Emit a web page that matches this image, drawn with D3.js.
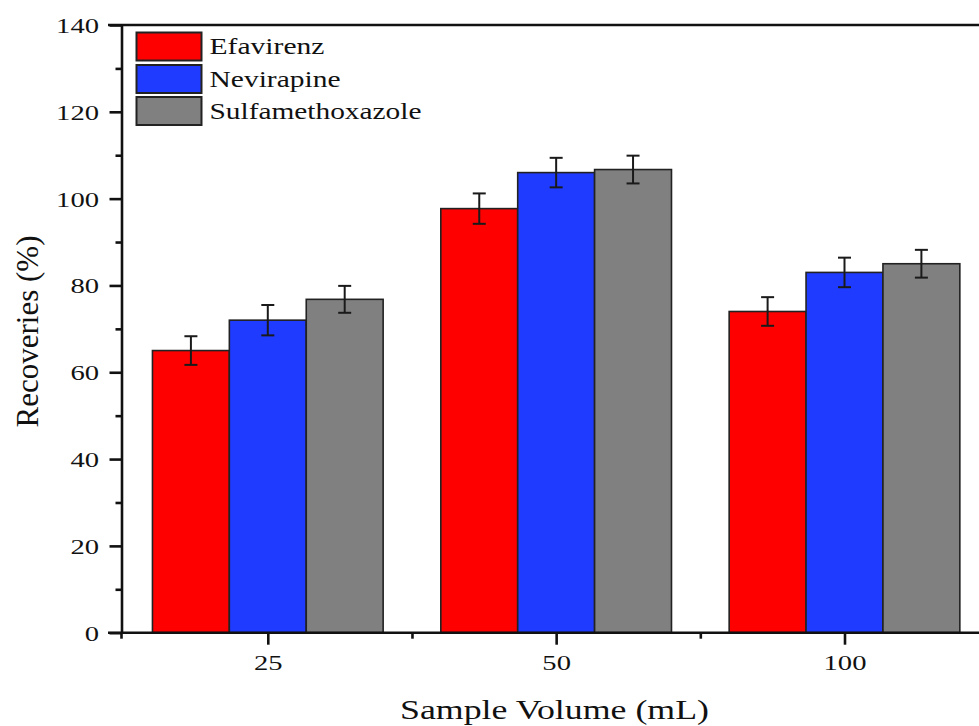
<!DOCTYPE html>
<html>
<head>
<meta charset="utf-8">
<script src="https://cdn.jsdelivr.net/npm/d3@7"></script>
<style>
  html, body { margin: 0; padding: 0; background: #fff; overflow: hidden; }
  svg { display: block; font-family: "Liberation Serif", "Times New Roman", serif; }
</style>
</head>
<body>
<svg id="chart" width="979" height="726"></svg>
<script>
// Sample volumes (x categories) and recoveries for each analyte
const categories = ["25", "50", "100"];
const seriesNames = ["Efavirenz", "Nevirapine", "Sulfamethoxazole"];
const efavirenz = [65.0, 97.7, 74.0];
const nevirapine = [72.0, 106.0, 83.0];
const sulfamethoxazole = [76.8, 106.7, 85.0];
const efavirenzErr = [3.3, 3.5, 3.3];
const nevirapineErr = [3.5, 3.4, 3.4];
const sulfamethoxazoleErr = [3.1, 3.2, 3.2];
const yMajorTicks = [0, 20, 40, 60, 80, 100, 120, 140];
const yMinorTicks = [10, 30, 50, 70, 90, 110, 130];

const seriesValues = [efavirenz, nevirapine, sulfamethoxazole];
const seriesErrors = [efavirenzErr, nevirapineErr, sulfamethoxazoleErr];
const colors = ["#ff0000", "#1f3bff", "#808080"];

const svg = d3.select("#chart");
const plotLeft = 121.5, plotBottom = 632.7, plotTop = 25;

// Group centres at positions 1..3; the plot runs on past the right page edge
const x = d3.scaleLinear().domain([1, 3]).range([267.8, 844.5]);
const step = x(2) - x(1);
const y = d3.scaleLinear().domain([0, 140]).range([plotBottom, plotTop]);
const inner = d3.scaleBand().domain(seriesNames).range([-0.4 * step, 0.4 * step]);

const ink = "#111";
const stretch = 1.3;

// Bars
const bars = [];
categories.forEach((c, i) => {
  seriesNames.forEach((s, k) => {
    bars.push({ ci: i, k, v: seriesValues[k][i], e: seriesErrors[k][i] });
  });
});

svg.append("g").selectAll("rect").data(bars).join("rect")
  .attr("x", d => x(d.ci + 1) + inner(seriesNames[d.k]))
  .attr("y", d => y(d.v))
  .attr("width", inner.bandwidth())
  .attr("height", d => y(0) - y(d.v))
  .attr("fill", d => colors[d.k])
  .attr("stroke", "#222")
  .attr("stroke-width", 1.6);

// Error bars
const eg = svg.append("g").attr("stroke", "#1a1a1a").attr("stroke-width", 2);
bars.forEach(d => {
  const cx = x(d.ci + 1) + inner(seriesNames[d.k]) + inner.bandwidth() / 2;
  const y1 = y(d.v + d.e), y2 = y(d.v - d.e);
  eg.append("line").attr("x1", cx).attr("x2", cx).attr("y1", y1).attr("y2", y2);
  eg.append("line").attr("x1", cx - 6.5).attr("x2", cx + 6.5).attr("y1", y1).attr("y2", y1);
  eg.append("line").attr("x1", cx - 6.5).attr("x2", cx + 6.5).attr("y1", y2).attr("y2", y2);
});

// Y axis
const yAxis = svg.append("g").attr("transform", `translate(${plotLeft},0)`)
  .call(d3.axisLeft(y).tickValues(yMajorTicks).tickSize(12).tickSizeOuter(0));
svg.append("g").attr("transform", `translate(${plotLeft},0)`)
  .call(d3.axisLeft(y).tickValues(yMinorTicks).tickSize(6).tickFormat("").tickSizeOuter(0))
  .select(".domain").remove();

// X axis (baseline drawn from the y axis to the page edge)
const xAxis = svg.append("g").attr("transform", `translate(0,${plotBottom})`)
  .call(d3.axisBottom(x).tickValues([1, 2, 3]).tickSize(12).tickSizeOuter(0)
    .tickFormat(d => categories[d - 1]));
xAxis.select(".domain").remove();
svg.append("g").attr("transform", `translate(0,${plotBottom})`)
  .call(d3.axisBottom(x).tickValues([1.5, 2.5]).tickSize(6).tickFormat("").tickSizeOuter(0))
  .select(".domain").remove();
svg.append("line").attr("x1", plotLeft).attr("x2", plotLeft).attr("y1", plotBottom).attr("y2", plotBottom + 6)
  .attr("stroke", ink).attr("stroke-width", 2.6);
svg.append("line").attr("x1", 108).attr("x2", 979).attr("y1", plotBottom).attr("y2", plotBottom)
  .attr("stroke", ink).attr("stroke-width", 2.6);

svg.selectAll(".domain, .tick line").attr("stroke", ink).attr("stroke-width", 2.6);

yAxis.selectAll(".tick text")
  .attr("x", 0).attr("dy", "0.34em")
  .attr("transform", `translate(-22.5,0) scale(${stretch},1)`)
  .attr("font-size", 22).attr("fill", ink).attr("font-family", "Liberation Serif");

xAxis.selectAll(".tick text")
  .attr("y", 0).attr("dy", 0)
  .attr("transform", `translate(0,37.5) scale(${stretch},1)`)
  .attr("font-size", 22).attr("fill", ink).attr("font-family", "Liberation Serif");

// Top frame line
svg.append("line").attr("x1", 108).attr("x2", 979).attr("y1", plotTop).attr("y2", plotTop)
  .attr("stroke", ink).attr("stroke-width", 2.6);

// Axis titles
svg.append("text")
  .attr("transform", `translate(554.5,719) scale(1.28,1)`)
  .attr("text-anchor", "middle").attr("font-size", 28).attr("fill", ink)
  .text("Sample Volume (mL)");

svg.append("text")
  .attr("transform", "translate(38,331.5) rotate(-90)")
  .attr("text-anchor", "middle").attr("font-size", 31).attr("fill", ink)
  .text("Recoveries (%)");

// Legend
const legend = svg.append("g");
const legendY = [32.5, 65, 97];
const legendTextW = [115, 131, 212];
seriesNames.forEach((s, k) => {
  legend.append("rect")
    .attr("x", 136.5).attr("y", legendY[k])
    .attr("width", 65).attr("height", 28)
    .attr("fill", colors[k]).attr("stroke", "#222").attr("stroke-width", 2);
  legend.append("text")
    .attr("x", 209.5).attr("y", legendY[k] + 21.5)
    .attr("font-size", 24).attr("fill", ink)
    .attr("textLength", legendTextW[k]).attr("lengthAdjust", "spacingAndGlyphs")
    .text(s);
});
</script>
</body>
</html>
